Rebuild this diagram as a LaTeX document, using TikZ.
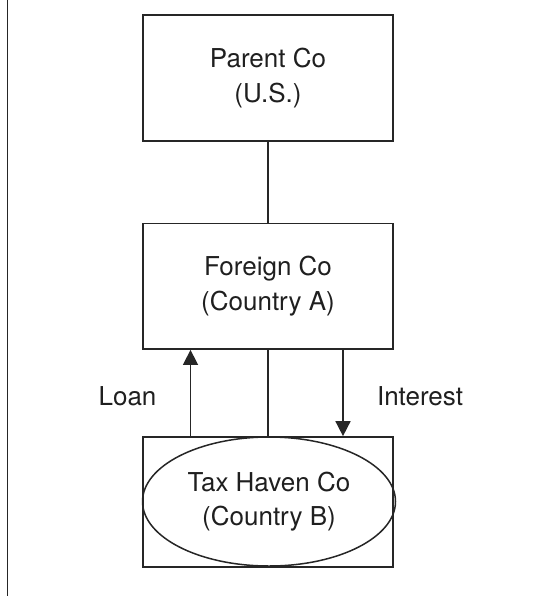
\documentclass[tikz,border=0pt]{standalone}
\usepackage{fontspec}
\setmainfont{TeX Gyre Heros}
\usepackage{tikz}
\usetikzlibrary{arrows.meta,shapes.geometric}
\tikzstyle{every node}=[font=\fontsize{26}{34.5}\selectfont,text=black!88,align=center]
\tikzstyle{cobox}=[draw=black!85,line width=1.7pt,rectangle,minimum width=250pt,inner sep=0pt]
\tikzstyle{haven}=[draw=black!85,line width=1.5pt,ellipse,minimum width=253pt,minimum height=129pt,inner sep=0pt]
\tikzstyle{link}=[draw=black!85,line width=1.6pt]
\tikzstyle{flow}=[link,-{Triangle[length=15pt,width=15pt]}]

\begin{document}
\begin{tikzpicture}[x=1pt,y=-1pt]
\useasboundingbox (0,0) rectangle (540,596);
\draw[link] (7.6,0)--(7.6,596);
\node[cobox,minimum height=126pt] (parent) at (268,77.8) {Parent Co\\(U.S.)};
\node[cobox,minimum height=125.7pt] (foreign) at (268,286.2) {Foreign Co\\(Country A)};
\node[cobox,minimum height=130pt] (havenbox) at (268,502) {};
\node[haven] (havenco) at (269,501.5) {Tax Haven Co\\(Country B)};
\draw[link] (parent.south)--(foreign.north);
\draw[link] (foreign.south)--(havenbox.north);
\draw[flow] ([xshift=-77.5pt]havenbox.north)--([xshift=-77.5pt]foreign.south);
\draw[flow] ([xshift=75pt]foreign.south)--([xshift=75pt]havenbox.north);
\node[anchor=base] (loan) at (127.5,405.7) {Loan};
\node[anchor=base] (interest) at (420,405.7) {Interest};
\end{tikzpicture}
\end{document}
